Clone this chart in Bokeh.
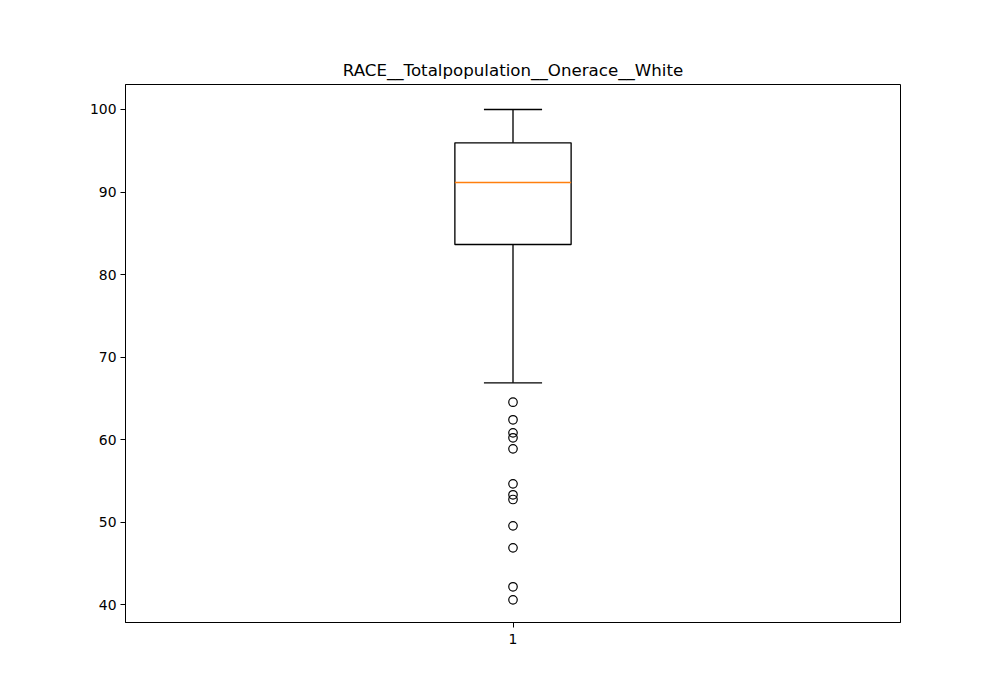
from bokeh.plotting import figure
from bokeh.models import FixedTicker, Range1d, ColumnDataSource
from bokeh.embed import file_html
from bokeh.resources import INLINE

title = "RACE__Totalpopulation__Onerace__White"
categories = [1]
q1 = [83.64]
median = [91.15]
q3 = [95.96]
whisker_low = [66.87]
whisker_high = [100.0]
outliers = [64.52, 62.39, 60.81, 60.21, 58.87, 54.63, 53.30, 52.73, 49.54, 46.87, 42.15, 40.57]
y_ticks = [40, 50, 60, 70, 80, 90, 100]

box_w = 0.15
cap_w = 0.075

p = figure(width=1000, height=700, output_backend="svg", toolbar_location=None,
           x_range=Range1d(0.5, 1.5), y_range=Range1d(37.82, 103.03),
           min_border_left=125, min_border_right=100, min_border_top=84, min_border_bottom=78)
p.title.text = title
p.title.align = "center"
p.title.text_font = "DejaVu Sans"
p.title.text_font_size = "16.67px"
p.title.text_font_style = "normal"
p.title.text_color = "black"

p.background_fill_color = "white"
p.border_fill_color = "white"
p.outline_line_color = "black"
p.outline_line_width = 1
p.xgrid.visible = False
p.ygrid.visible = False

for ax in (p.xaxis, p.yaxis):
    ax.axis_line_color = "black"
    ax.major_tick_line_color = "black"
    ax.major_tick_out = 5
    ax.major_tick_in = 0
    ax.minor_tick_line_color = None
    ax.major_label_text_font = "DejaVu Sans"
    ax.major_label_text_font_size = "13.9px"
    ax.major_label_text_color = "black"
    ax.major_label_standoff = 4
p.xaxis.major_label_standoff = 6
p.xaxis.ticker = FixedTicker(ticks=categories)
p.yaxis.ticker = FixedTicker(ticks=y_ticks)

xs = categories
src = ColumnDataSource(dict(
    x=xs, q1=q1, q3=q3, med=median, lo=whisker_low, hi=whisker_high,
    left=[x - box_w / 2 for x in xs], right=[x + box_w / 2 for x in xs],
    cl=[x - cap_w / 2 for x in xs], cr=[x + cap_w / 2 for x in xs],
))

# whiskers
p.segment(x0="x", y0="q3", x1="x", y1="hi", source=src, line_color="black", line_width=1.33)
p.segment(x0="x", y0="lo", x1="x", y1="q1", source=src, line_color="black", line_width=1.33)
# caps
p.segment(x0="cl", y0="hi", x1="cr", y1="hi", source=src, line_color="black", line_width=1.33)
p.segment(x0="cl", y0="lo", x1="cr", y1="lo", source=src, line_color="black", line_width=1.33)
# box
p.quad(left="left", right="right", bottom="q1", top="q3", source=src,
       fill_color=None, line_color="black", line_width=1.33)
# median
p.segment(x0="left", y0="med", x1="right", y1="med", source=src, line_color="#ff7f0e", line_width=1.33)
# outliers
p.scatter(x=[categories[0]] * len(outliers), y=outliers, marker="circle", size=8.5,
          fill_color=None, line_color="black", line_width=1.2)

open("out.html", "w").write(file_html(p, INLINE))
